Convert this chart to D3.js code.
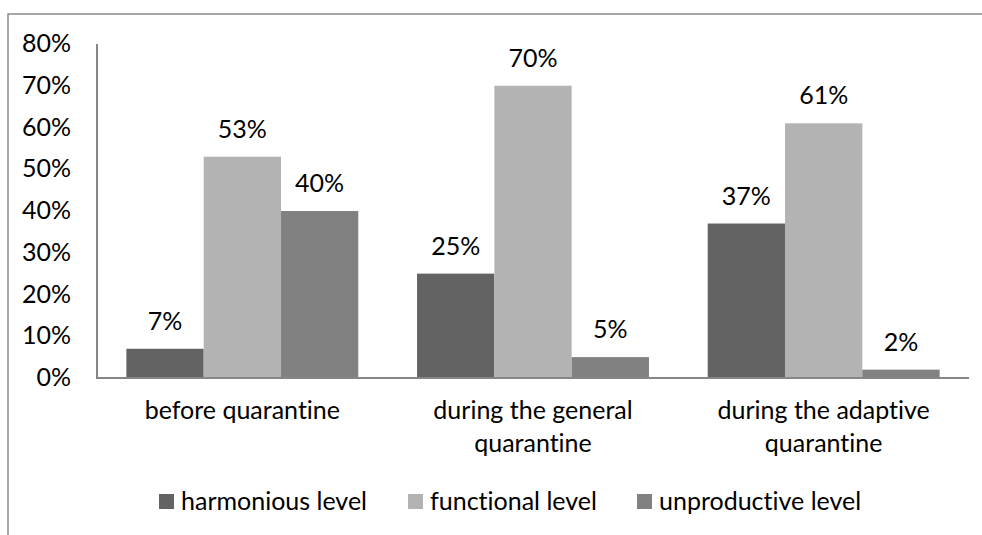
<!DOCTYPE html>
<html>
<head>
<meta charset="utf-8">
<script src="https://cdn.jsdelivr.net/npm/d3@7"></script>
<style>
  body { margin: 0; background: #fff; }
  text { font-family: Lato, "Open Sans", sans-serif; fill: #000; font-variant-ligatures: none; }
</style>
</head>
<body>
<script>
// data
let categories = [["before quarantine"], ["during the general", "quarantine"], ["during the adaptive", "quarantine"]];
let series = ["harmonious level", "functional level", "unproductive level"];
let harmonious = [7, 25, 37];
let functional = [53, 70, 61];
let unproductive = [40, 5, 2];
let yTicks = [0, 10, 20, 30, 40, 50, 60, 70, 80];
let colors = ["#636363", "#b3b3b3", "#818181"];

let values = [harmonious, functional, unproductive];
let W = 982, H = 535;
let fs = 25;

let svg = d3.select("body").append("svg").attr("width", W).attr("height", H);

// outer chart frame (only top/left visible)
svg.append("rect").attr("x", 8).attr("y", 14).attr("width", 1100).attr("height", 700)
   .attr("fill", "none").attr("stroke", "#8a8a8a").attr("stroke-width", 1.5);

let x0 = d3.scaleBand().domain(d3.range(categories.length)).range([97, 969]).padding(0);
let x1 = d3.scaleBand().domain(d3.range(series.length)).range([0, x0.bandwidth()]).paddingInner(0).paddingOuter(0.38);
let y = d3.scaleLinear().domain([0, 80]).range([378, 44]);

// y labels
svg.append("g").selectAll("text").data(yTicks).enter().append("text")
   .attr("x", 71).attr("y", d => y(d) + 8)
   .attr("text-anchor", "end").attr("font-size", fs)
   .text(d => d + "%");

// bars
let groups = svg.append("g").selectAll("g").data(categories).enter().append("g")
   .attr("transform", (d, i) => "translate(" + x0(i) + ",0)");

groups.selectAll("rect").data((d, i) => values.map((v, s) => ({s: s, v: v[i]}))).enter().append("rect")
   .attr("x", d => x1(d.s)).attr("width", x1.bandwidth())
   .attr("y", d => y(d.v)).attr("height", d => y(0) - y(d.v))
   .attr("fill", d => colors[d.s]);

groups.selectAll("text.val").data((d, i) => values.map((v, s) => ({s: s, v: v[i]}))).enter().append("text")
   .attr("class", "val")
   .attr("x", d => x1(d.s) + x1.bandwidth() / 2).attr("y", d => y(d.v) - 19)
   .attr("text-anchor", "middle").attr("font-size", fs)
   .text(d => d.v + "%");

// axes lines
svg.append("line").attr("x1", 97).attr("x2", 97).attr("y1", 44).attr("y2", 378)
   .attr("stroke", "#868686").attr("stroke-width", 2);
svg.append("line").attr("x1", 96).attr("x2", 969).attr("y1", 378).attr("y2", 378)
   .attr("stroke", "#868686").attr("stroke-width", 2);

// category labels
groups.append("text").attr("x", x0.bandwidth() / 2).attr("y", 419)
   .attr("text-anchor", "middle").attr("font-size", fs)
   .selectAll("tspan").data(d => d).enter().append("tspan")
   .attr("x", x0.bandwidth() / 2).attr("dy", (d, i) => i ? 33 : 0)
   .text(d => d);

// legend
let legX = [159, 408, 637];
let leg = svg.append("g").selectAll("g").data(series).enter().append("g")
   .attr("transform", (d, i) => "translate(" + legX[i] + ",494)");
leg.append("rect").attr("width", 15).attr("height", 15).attr("fill", (d, i) => colors[i]);
leg.append("text").attr("x", 22).attr("y", 16).attr("font-size", fs).text(d => d);
</script>
</body>
</html>
